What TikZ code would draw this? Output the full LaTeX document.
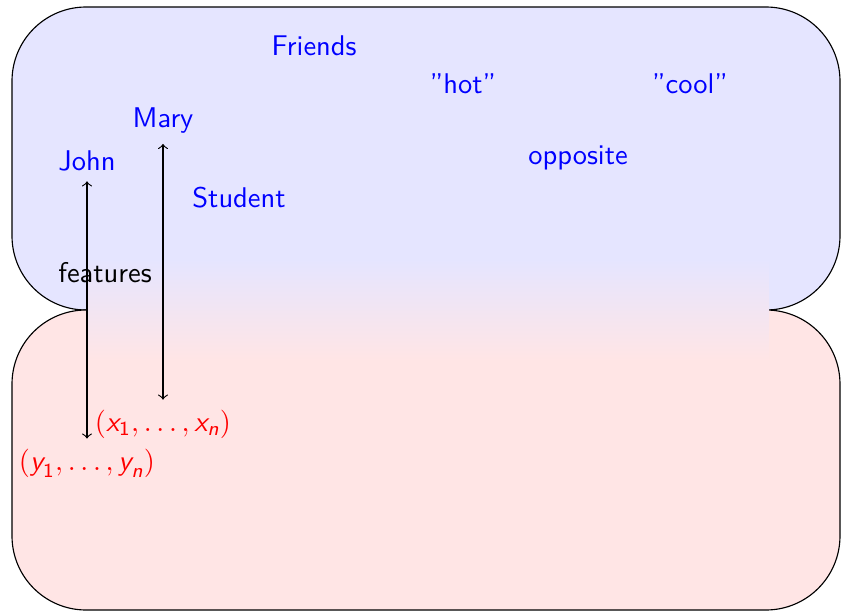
\documentclass[tikz,border=0pt]{standalone}
\usepackage{amsmath}
\newcommand\sfv[1]{\text{\sffamily\itshape #1}}
\begin{document}
\begin{tikzpicture}[x=0.351pt,y=-0.351pt,
  word/.style={font=\sffamily,text=blue},
  mathword/.style={text=red},
  box/.style={draw=black,rounded corners=26pt}]
\useasboundingbox (0,0) rectangle (841,611);
\draw[box,fill=blue!10] (12,7) rectangle (840,310);
\draw[box,fill=red!10] (12,310) rectangle (840,610);
\shade[top color=blue!10,bottom color=red!10] (87,260) rectangle (769,360);
\node[word] (friends) at (314,46) {Friends};
\node[word] (hot) at (463,84) {''hot''};
\node[word] (cool) at (690,84) {''cool''};
\node[word] (mary) at (163,121) {Mary};
\node[word] (john) at (87,161) {John};
\node[word] (student) at (239,198) {Student};
\node[word] (opposite) at (578,158) {opposite};
\node[font=\sffamily] (features) at (105,273) {features};
\node[mathword] (xs) at (163,424) {$\mathsf{(}\sfv{x}_{\mathsf{1}},\ldots,\sfv{x}_{\sfv{n}}\mathsf{)}$};
\node[mathword] (ys) at (87,463) {$\mathsf{(}\sfv{y}_{\mathsf{1}},\ldots,\sfv{y}_{\sfv{n}}\mathsf{)}$};
\draw[<->] (john) -- (ys);
\draw[<->] (mary) -- (xs);
\end{tikzpicture}
\end{document}
